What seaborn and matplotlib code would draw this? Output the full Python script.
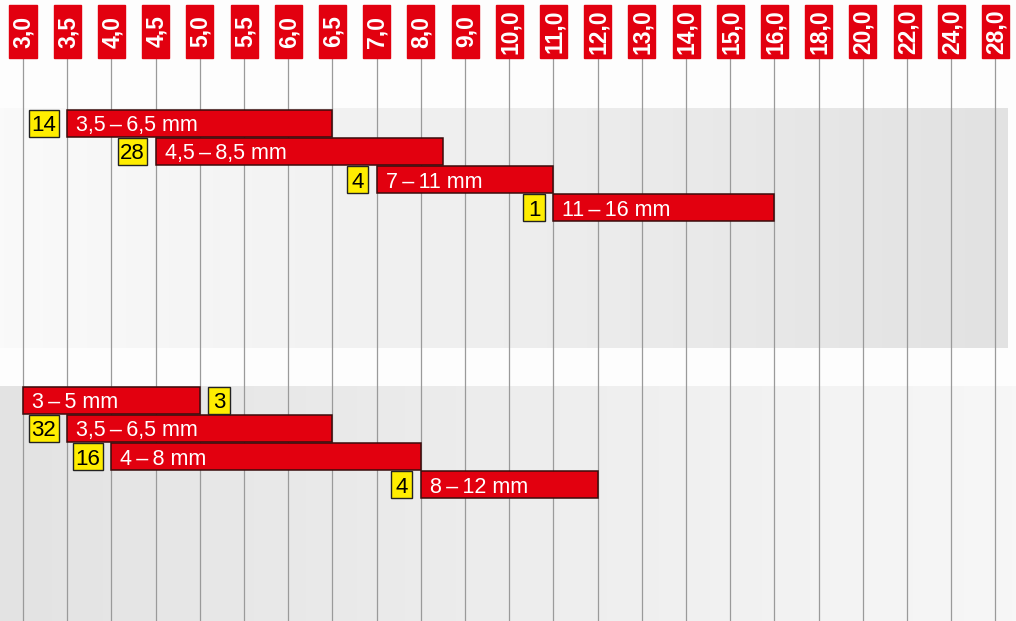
import numpy as np
import matplotlib
matplotlib.use("Agg")
import matplotlib.pyplot as plt
from matplotlib.patches import Rectangle
import seaborn as sns

# Column headers (diameter in mm) and their numeric values
columns = ["3,0", "3,5", "4,0", "4,5", "5,0", "5,5", "6,0", "6,5", "7,0", "8,0",
           "9,0", "10,0", "11,0", "12,0", "13,0", "14,0", "15,0", "16,0",
           "18,0", "20,0", "22,0", "24,0", "28,0"]
column_mm = [3.0, 3.5, 4.0, 4.5, 5.0, 5.5, 6.0, 6.5, 7.0, 8.0,
             9.0, 10.0, 11.0, 12.0, 13.0, 14.0, 15.0, 16.0,
             18.0, 20.0, 22.0, 24.0, 28.0]

# Upper group of ranges
upper_start = [3.5, 4.5, 7.0, 11.0]
upper_end = [6.5, 8.5, 11.0, 16.0]
upper_count = [14, 28, 4, 1]
upper_label = ["3,5\u2009\u2013\u20096,5 mm", "4,5\u2009\u2013\u20098,5 mm",
               "7\u2009\u2013\u200911 mm", "11\u2009\u2013\u200916 mm"]
upper_count_side = ["left", "left", "left", "left"]

# Lower group of ranges
lower_start = [3.0, 3.5, 4.0, 8.0]
lower_end = [5.0, 6.5, 8.0, 12.0]
lower_count = [3, 32, 16, 4]
lower_label = ["3\u2009\u2013\u20095 mm", "3,5\u2009\u2013\u20096,5 mm",
               "4\u2009\u2013\u20098 mm", "8\u2009\u2013\u200912 mm"]
lower_count_side = ["right", "left", "left", "left"]

sns.set_theme(style="white")
plt.rcParams["font.family"] = ["Liberation Sans Narrow", "Liberation Sans", "DejaVu Sans"]

W, H = 1016, 621
PX = 44.2          # pixels per column
X0 = 23.0          # pixel position of first column

RED = "#e2000f"
YELLOW = "#ffed00"

fig = plt.figure(figsize=(W / 100, H / 100), dpi=100)

# Background with shaded panels
bg = fig.add_axes([0, 0, 1, 1])
bg.set_xlim(0, W)
bg.set_ylim(H, 0)
bg.axis("off")
bg.add_patch(Rectangle((0, 0), W, H, color="#fdfdfd", zorder=0))
grad = np.linspace(0, 1, 256)[None, :]
top_cmap = matplotlib.colors.LinearSegmentedColormap.from_list("t", ["#fafafa", "#e2e2e2"])
bot_cmap = matplotlib.colors.LinearSegmentedColormap.from_list("b", ["#e3e3e3", "#f7f7f7"])
bg.imshow(grad, extent=(0, 1008, 348, 108), cmap=top_cmap, aspect="auto", zorder=1)
bg.imshow(grad, extent=(0, W, H, 386), cmap=bot_cmap, aspect="auto", zorder=1)
bg.set_xlim(0, W)
bg.set_ylim(H, 0)

ax = fig.add_axes([0, 0, 1, 1])
ax.patch.set_alpha(0)
ax.set_xlim(-X0 / PX, (W - X0) / PX)
ax.set_ylim(H, 0)
ax.axis("off")

idx = np.arange(len(columns))

# Column guide lines
ax.vlines(idx, 58, H, color="#9a9a9a", lw=0.9, zorder=2)

# Red header tags with rotated labels
hw = 27 / PX
for i, lab in zip(idx, columns):
    ax.add_patch(Rectangle((i - hw / 2, 5), hw, 53, color=RED, zorder=3))
    ax.text(i + 0.02, 31.5, lab, rotation=90, ha="center", va="center",
            rotation_mode="anchor", color="white", fontsize=16.5,
            fontweight="bold", zorder=4)


def draw_group(starts, ends, counts, labels, sides, top):
    s = np.interp(starts, column_mm, idx)
    e = np.interp(ends, column_mm, idx)
    centers = top + 13.5 + 28.3 * np.arange(len(starts))
    ax.barh(centers, e - s, left=s, height=27, color=RED,
            edgecolor="#3a0c0c", linewidth=1.1, zorder=5)
    for x0, x1, yc, n, lab, side in zip(s, e, centers, counts, labels, sides):
        ax.text(x0 + 9 / PX, yc, lab, color="white", fontsize=15.5,
                ha="left", va="center_baseline", zorder=6)
        bw = (13.5 + 8 * len(str(n))) / PX
        gap = 8.5 / PX
        bx = x0 - gap - bw if side == "left" else x1 + gap
        ax.add_patch(Rectangle((bx, yc - 13.5), bw, 27, facecolor=YELLOW,
                               edgecolor="#222222", linewidth=1.0, zorder=5))
        ax.text(bx + bw / 2, yc, str(n), color="black", fontsize=16,
                ha="center", va="center_baseline", zorder=6)


draw_group(upper_start, upper_end, upper_count, upper_label, upper_count_side, 109.5)
draw_group(lower_start, lower_end, lower_count, lower_label, lower_count_side, 386.5)

fig.savefig("out.png", dpi=100)
